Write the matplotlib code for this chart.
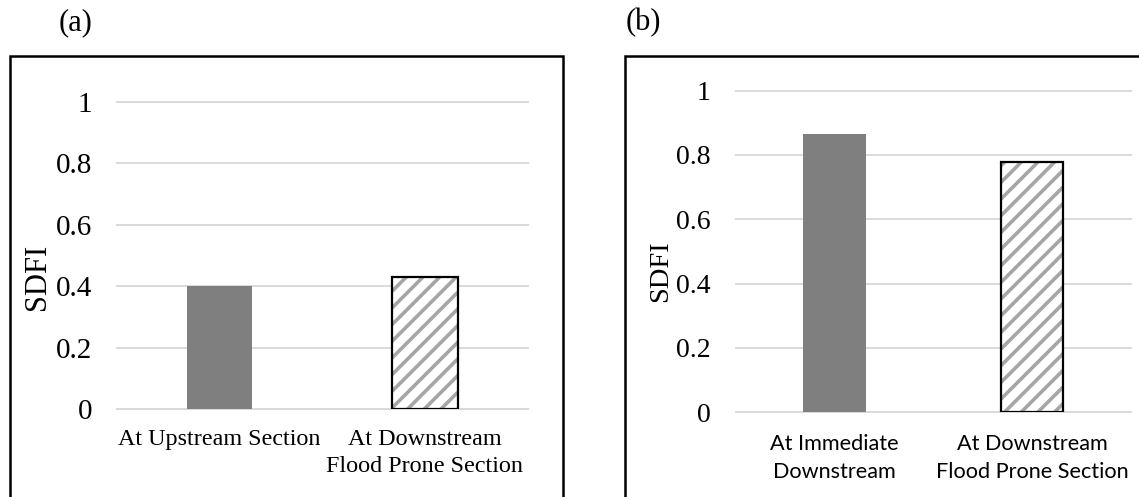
import matplotlib.pyplot as plt
from matplotlib.patches import Rectangle

# SDFI values for the two sections in each case
cats_a = ["At Upstream Section", "At Downstream\nFlood Prone Section"]
sdfi_a = [0.40, 0.43]

cats_b = ["At Immediate\nDownstream", "At Downstream\nFlood Prone Section"]
sdfi_b = [0.865, 0.777]

yticks = [0, 0.2, 0.4, 0.6, 0.8, 1]
ytick_labels = ["0", "0.2", "0.4", "0.6", "0.8", "1"]

W, H = 1139, 497
fig = plt.figure(figsize=(W / 100, H / 100), dpi=100)
plt.rcParams['hatch.linewidth'] = 2.6


def px_axes(x0, x1, ytop, ybot):
    return fig.add_axes([x0 / W, (H - ybot) / H, (x1 - x0) / W, (ybot - ytop) / H])


def draw_panel(ax, cats, vals, width, tick_fs, cat_font, cat_fs, cat_pad, cat_ls):
    x = list(range(len(cats)))
    # solid bar
    ax.bar(x[0], vals[0], width=width, color="#7f7f7f", zorder=3)
    # hatched bar: grey stripes, then a black outline on top
    ax.bar(x[1], vals[1], width=width, color="white", edgecolor="#a6a6a6",
           hatch="//", linewidth=0, zorder=3)
    ax.bar(x[1], vals[1], width=width, fill=False, edgecolor="black",
           linewidth=1.6, zorder=4)
    ax.set_xlim(-0.5, 1.5)
    ax.set_ylim(0, 1)
    ax.set_yticks(yticks)
    ax.set_yticklabels(ytick_labels, family="Liberation Serif", fontsize=tick_fs)
    ax.set_xticks(x)
    ax.set_xticklabels(cats, family=cat_font, fontsize=cat_fs, linespacing=cat_ls)
    ax.tick_params(axis="y", length=0, pad=18)
    ax.tick_params(axis="x", length=0, pad=cat_pad)
    for s in ax.spines.values():
        s.set_visible(False)
    ax.yaxis.grid(True, color="#d9d9d9", linewidth=1.4, zorder=0)
    for gl in ax.get_ygridlines():
        gl.set_clip_on(False)
    ax.set_axisbelow(True)


ax_a = px_axes(117, 527.5, 101.8, 409.3)
draw_panel(ax_a, cats_a, sdfi_a, 0.32, 21, "Liberation Serif", 17.4, 14, 1.42)
ax_a.text(-0.194, 0.43, "SDFI", transform=ax_a.transAxes, rotation=90,
          ha="center", va="center", family="Liberation Serif", fontsize=22)

ax_b = px_axes(735.7, 1130.7, 90.7, 412.2)
draw_panel(ax_b, cats_b, sdfi_b, 0.315, 20, "Lato", 15.6, 16, 1.48)
ax_b.text(-0.19, 0.44, "SDFI", transform=ax_b.transAxes, rotation=90,
          ha="center", va="center", family="Liberation Serif", fontsize=20.5)

# frames around each panel
fig.patches.append(Rectangle((10 / W, -0.05), 553 / W, 1.05 - 56 / H,
                             transform=fig.transFigure, fill=False,
                             edgecolor="black", linewidth=1.8))
fig.patches.append(Rectangle((625 / W, -0.05), 600 / W, 1.05 - 56 / H,
                             transform=fig.transFigure, fill=False,
                             edgecolor="black", linewidth=1.8))

fig.text(59 / W, 1 - 23 / H, "(a)", family="Liberation Serif", fontsize=22,
         ha="left", va="center")
fig.text(626 / W, 1 - 23 / H, "(b)", family="Liberation Serif", fontsize=22,
         ha="left", va="center")

fig.savefig("out.png", dpi=100)
